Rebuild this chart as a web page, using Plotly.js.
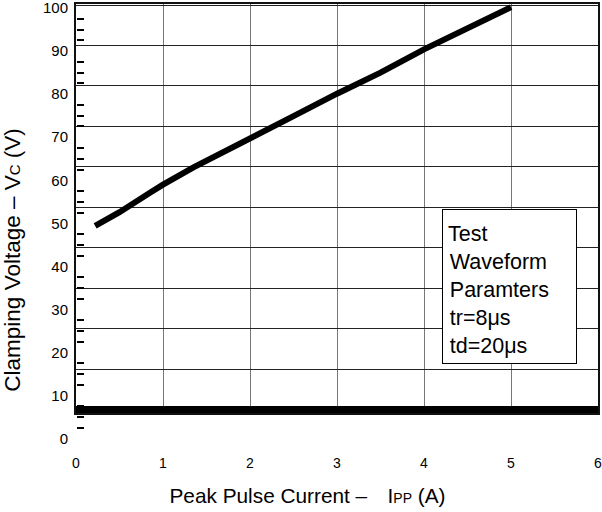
<!DOCTYPE html>
<html>
<head>
<meta charset="utf-8">
<script src="https://cdn.plot.ly/plotly-3.0.1.min.js"></script>
<style>html,body{margin:0;padding:0;background:#fff;}#chart{width:602px;height:512px;}</style>
</head>
<body>
<div id="chart"></div>
<script>
// Peak pulse current (A)
const currentA = [0.22, 0.5, 0.85, 1.0, 1.35, 1.75, 2.0, 2.5, 3.0, 3.5, 4.0, 4.5, 5.0];
// Clamping voltage (V)
const clampV = [49.4, 52.6, 57.1, 59.0, 63.0, 67.2, 70.0, 74.9, 80.1, 85.0, 90.4, 95.4, 100.2];
// Tick values / labels
const xTickVals = [0, 1, 2, 3, 4, 5, 6];
const xTickText = ['0', '1', '2', '3', '4', '5', '6'];
const yTickVals = [0, 10, 20, 30, 40, 50, 60, 70, 80, 90, 100];
const yTickText = ['0', '10', '20', '30', '40', '50', '60', '70', '80', '90', '100'];
const gridVals = [0, 10, 20, 30, 40, 50, 60, 70, 80, 90, 100];
const legendLines = ['Test', 'Waveform', 'Paramters', 'tr=8μs', 'td=20μs'];

// minor tick marks every 2.5 V, skipping the labelled values
const minorStep = 2.5;
const minorVals = [];
for (let k = 0; k * minorStep <= 100; k++) {
  const v = k * minorStep;
  if (v % 10 !== 0) minorVals.push(v);
}

const FONT = 'Arial, "Liberation Sans", Helvetica, sans-serif';

const traces = [
  // empty traces so the frame subplot and the title holder subplot are created
  {x: [], y: [], xaxis: 'x', yaxis: 'y', type: 'scatter', mode: 'lines', hoverinfo: 'skip'},
  {x: [], y: [], xaxis: 'x3', yaxis: 'y3', type: 'scatter', mode: 'lines', hoverinfo: 'skip'},
  {
    x: currentA, y: clampV, xaxis: 'x2', yaxis: 'y2',
    type: 'scatter', mode: 'lines',
    line: {color: '#000', width: 6},
    hoverinfo: 'skip'
  }
];

const layout = {
  width: 602, height: 512,
  margin: {l: 76, r: 4, t: 4, b: 72, pad: 0},
  paper_bgcolor: '#fff', plot_bgcolor: 'rgba(0,0,0,0)',
  showlegend: false,
  font: {family: FONT, size: 14, color: '#000'},
  xaxis: {
    domain: [0, 1], anchor: 'y', range: [0, 6],
    tickmode: 'array', tickvals: xTickVals, ticktext: xTickText,
    ticks: '', ticklabelstandoff: 36, ticklabeloverflow: 'allow',
    tickfont: {size: 14, color: '#000'},
    showgrid: true, gridcolor: '#777', gridwidth: 1,
    showline: true, mirror: true, linecolor: '#111', linewidth: 2,
    zeroline: false, automargin: false
  },
  yaxis: {
    domain: [27 / 436, 1], anchor: 'x', range: [-0.865, 100.25],
    tickmode: 'array', tickvals: gridVals, showticklabels: false, ticks: '',
    showgrid: true, gridcolor: '#222', gridwidth: 1,
    zeroline: true, zerolinecolor: '#000', zerolinewidth: 7,
    showline: true, mirror: true, linecolor: '#111', linewidth: 2,
    automargin: false
  },
  xaxis2: {domain: [0, 1], anchor: 'y2', range: [0, 6], visible: false},
  yaxis2: {
    domain: [0, 1], anchor: 'free', position: 0, range: [-0.28, 100.92],
    tickmode: 'array', tickvals: yTickVals, ticktext: yTickText,
    ticks: '', ticklabelstandoff: 8, ticklabeloverflow: 'allow',
    tickfont: {size: 15, color: '#000'},
    minor: {tickmode: 'array', tickvals: minorVals, ticks: 'inside', ticklen: 7, tickwidth: 2, tickcolor: '#000', showgrid: false},
    showgrid: false, zeroline: false, showline: false, automargin: false
  },
  // title holders (no ticks, no lines)
  xaxis3: {
    domain: [0, 0.887], anchor: 'y3', range: [0, 6],
    showticklabels: false, ticks: '', showgrid: false, showline: false, zeroline: false, automargin: false,
    title: {text: 'Peak Pulse Current – \u2002\u2009I<span style="font-size:14px">PP</span> (A)',
            font: {size: 20.8, color: '#000'}, standoff: 48}
  },
  yaxis3: {
    domain: [0, 0.826], anchor: 'free', position: 0, range: [0, 1],
    showticklabels: false, ticks: '', showgrid: false, showline: false, zeroline: false, automargin: false,
    title: {text: 'Clamping Voltage – V<span style="font-size:15px">C</span> (V)',
            font: {size: 22.5, color: '#000'}, standoff: 49}
  },
  annotations: [{
    xref: 'paper', yref: 'paper', x: 0.7011, y: 0.5298,
    xanchor: 'left', yanchor: 'top',
    text: legendLines.map((s, i) => (i === 0 ? '' : '\u200A') + s).join('<br>'),
    align: 'left', valign: 'bottom',
    width: 123, height: 143, borderpad: 5,
    bgcolor: '#fff', bordercolor: '#000', borderwidth: 1,
    showarrow: false, font: {size: 21.5, color: '#000'}
  }]
};

Plotly.newPlot('chart', traces, layout, {staticPlot: true, displayModeBar: false});
</script>
</body>
</html>
